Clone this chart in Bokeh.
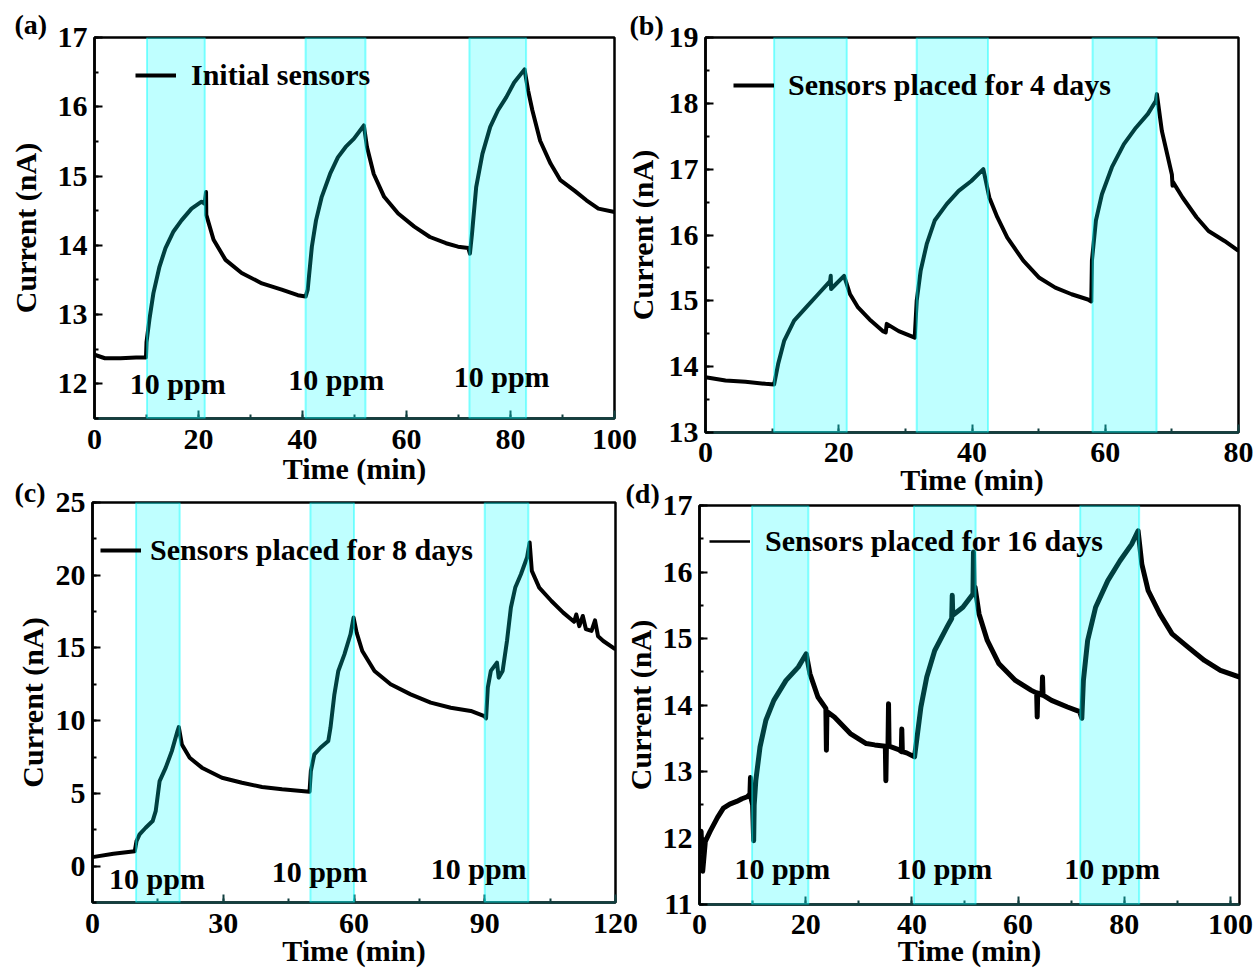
from bokeh.plotting import figure
from bokeh.layouts import column, row
from bokeh.models import (Range1d, BoxAnnotation, Label, Legend, LegendItem, Title,
                          SingleIntervalTicker)
from bokeh.embed import file_html
from bokeh.resources import INLINE

# ---------------- data ----------------
# (a) Initial sensors
a_time = [0, 2, 5, 8, 9.9, 10.0, 10.56, 11.33, 12.49, 13.65, 15.19, 16.73, 18.66, 20.59, 21.2, 21.45,
          21.5, 22.9, 25.2, 28.3, 32.2, 36.0, 39.1, 40.6, 41.0, 41.8, 42.6, 43.7, 45.3, 46.8, 48.3,
          49.9, 51.8, 52.4, 53.7, 55.7, 58.4, 61.5, 64.5, 67.6, 69.9, 71.9, 72.2, 72.6, 73.4, 74.6,
          76.1, 77.6, 79.2, 80.7, 82.7, 83.4, 84.2, 85.7, 87.7, 89.6, 92.3, 94.6, 96.9, 100]
a_current = [12.42, 12.37, 12.37, 12.38, 12.38, 12.6, 12.93, 13.31, 13.69, 13.96, 14.20, 14.36, 14.53,
             14.63, 14.6, 14.77, 14.44, 14.08, 13.79, 13.60, 13.45, 13.36, 13.28, 13.26, 13.36, 13.98,
             14.36, 14.70, 15.03, 15.27, 15.42, 15.54, 15.73, 15.42, 15.03, 14.70, 14.46, 14.27, 14.12,
             14.03, 13.98, 13.96, 13.88, 14.17, 14.84, 15.32, 15.71, 15.95, 16.14, 16.35, 16.54, 16.23,
             15.95, 15.51, 15.18, 14.94, 14.79, 14.65, 14.53, 14.48]
a_band_start = [10.1, 40.6, 72.1]
a_band_end = [21.2, 52.1, 83.0]

# (b) Sensors placed for 4 days
b_time = [0, 3, 6, 9, 10.3, 10.9, 11.8, 13.3, 15.1, 16.9, 18.7, 18.8, 18.85, 20.5, 20.8, 21.7, 22.9,
          24.8, 26.6, 27.05, 27.2, 29.0, 31.4, 31.7, 32.3, 33.2, 34.4, 36.2, 38.0, 39.9, 41.7, 42.6,
          43.8, 45.3, 47.7, 50.1, 52.5, 54.95, 57.4, 57.9, 58.0, 58.6, 59.5, 61.0, 62.8, 64.6, 66.4,
          67.6, 67.75, 68.5, 70.0, 70.1, 70.2, 71.6, 73.7, 75.5, 77.9, 80]
b_current = [13.84, 13.79, 13.77, 13.74, 13.73, 14.04, 14.39, 14.70, 14.90, 15.10, 15.30, 15.38, 15.18,
             15.35, 15.38, 15.10, 14.90, 14.70, 14.54, 14.52, 14.65, 14.54, 14.44, 15.00, 15.46, 15.86,
             16.22, 16.47, 16.67, 16.82, 17.00, 16.57, 16.27, 15.96, 15.61, 15.35, 15.20, 15.10, 15.02,
             14.99, 15.61, 16.22, 16.62, 17.03, 17.38, 17.63, 17.84, 18.04, 18.14, 17.58, 16.92, 16.75,
             16.80, 16.57, 16.27, 16.06, 15.91, 15.76]
b_band_start = [10.3, 31.7, 58.1]
b_band_end = [21.2, 42.4, 67.7]

# (c) Sensors placed for 8 days
c_time = [0, 4.8, 9.7, 10.1, 10.8, 12.2, 13.8, 14.5, 15.4, 16.8, 18.2, 19.5, 19.8, 20.5, 22.3, 25.1,
          29.7, 34.3, 38.9, 43.5, 49.8, 50.1, 50.9, 52.3, 54.1, 54.6, 55.5, 56.4, 57.8, 59.2, 59.9,
          60.6, 61.9, 64.7, 68.4, 73.0, 77.6, 82.2, 86.8, 89.9, 90.3, 90.7, 91.4, 92.8, 93.2, 94.1,
          95.1, 96.0, 97.0, 98.3, 99.7, 100.3, 100.8, 102.5, 105.3, 108.0, 110.5, 111.0, 111.7, 112.5,
          113.2, 114.5, 115.3, 116.0, 117.2, 120]
c_current = [0.62, 0.85, 1.03, 1.72, 2.18, 2.64, 3.10, 3.78, 5.85, 6.77, 7.91, 9.29, 9.56, 8.37, 7.45,
             6.77, 6.08, 5.73, 5.44, 5.28, 5.12, 6.54, 7.68, 8.14, 8.60, 9.52, 11.81, 13.42, 14.56,
             15.94, 17.09, 16.06, 14.79, 13.42, 12.50, 11.81, 11.24, 10.89, 10.67, 10.32, 10.16, 12.27,
             13.42, 13.99, 12.96, 13.42, 15.48, 17.78, 19.15, 20.07, 21.22, 22.25, 20.30, 19.15, 18.23,
             17.43, 16.8, 17.3, 16.5, 17.2, 16.3, 16.17, 16.9, 15.8, 15.48, 14.91]
c_band_start = [10.0, 50.0, 90.0]
c_band_end = [20.0, 60.0, 100.0]

# (d) Sensors placed for 16 days
d_time = [0, 0.3, 0.6, 1.1, 2.0, 3.4, 4.5, 5.7, 7.0, 8.0, 9.0, 9.5, 9.6, 9.7, 10.0, 10.2, 10.3, 10.6,
          11.4, 12.5, 14.0, 16.3, 18.6, 20.1, 20.8, 22.3, 23.8, 23.9, 24.0, 25.4, 28.4, 31.4, 33.0,
          35.0, 35.1, 35.2, 35.5, 35.6, 35.7, 37.5, 38.0, 38.1, 38.2, 39.0, 40.5, 40.9, 41.7, 42.8,
          44.3, 46.6, 47.5, 47.6, 47.7, 49.6, 51.5, 51.6, 51.7, 51.9, 52.65, 54.2, 56.4, 59.5, 62.5,
          63.5, 63.6, 63.7, 64.5, 64.6, 64.7, 66.3, 69.3, 71.6, 72.0, 72.3, 73.1, 74.6, 76.9, 79.2,
          81.4, 82.6, 83.3, 84.5, 86.7, 89.0, 92.0, 95.1, 98.1, 101.7]
d_current = [11.75, 12.1, 11.5, 11.95, 12.1, 12.31, 12.45, 12.51, 12.55, 12.59, 12.62, 12.66, 12.91,
             12.6, 12.5, 11.96, 12.5, 12.86, 13.37, 13.77, 14.07, 14.37, 14.57, 14.77, 14.47, 14.12,
             13.95, 13.32, 13.9, 13.82, 13.57, 13.42, 13.4, 13.38, 12.86, 13.38, 13.38, 14.02, 13.38,
             13.33, 13.3, 13.64, 13.3, 13.28, 13.22, 13.47, 13.97, 14.42, 14.82, 15.17, 15.3, 15.65,
             15.35, 15.47, 15.67, 16.3, 15.75, 15.77, 15.37, 14.97, 14.62, 14.37, 14.22, 14.18, 13.82,
             14.18, 14.15, 14.42, 14.15, 14.07, 13.97, 13.9, 13.8, 14.37, 14.97, 15.47, 15.87, 16.17,
             16.42, 16.62, 16.12, 15.72, 15.37, 15.07, 14.87, 14.67, 14.52, 14.42]
d_band_start = [9.9, 40.4, 71.7]
d_band_end = [20.5, 52.0, 82.8]

series_names = ["Initial sensors", "Sensors placed for 4 days",
                "Sensors placed for 8 days", "Sensors placed for 16 days"]
panel_tags = ["(a)", "(b)", "(c)", "(d)"]
dose_text = "10 ppm"

# ---------------- style ----------------
FONT = "Liberation Serif"
FS = "30px"


def make_panel(w, h, bl, br, bt, bb, xr, yr, xint, yint, ylab_standoff, xtick_standoff,
               xlab_standoff, tag, tag_offset, tag_standoff, transparent=False):
    p = figure(width=w, height=h, x_range=Range1d(*xr), y_range=Range1d(*yr),
               output_backend="svg", toolbar_location=None,
               min_border_left=bl, min_border_right=br, min_border_top=bt, min_border_bottom=bb)
    p.grid.visible = False
    p.outline_line_color = "black"
    p.outline_line_width = 2.5
    p.background_fill_color = "white"
    p.border_fill_color = "white"
    if transparent:
        p.border_fill_alpha = 0
    p.title = Title(text=tag, align="left", offset=tag_offset, standoff=tag_standoff,
                    vertical_align="bottom", text_font=FONT, text_font_style="bold",
                    text_font_size="28px", text_color="black")
    p.xaxis.ticker = SingleIntervalTicker(interval=xint, num_minor_ticks=2)
    p.yaxis.ticker = SingleIntervalTicker(interval=yint, num_minor_ticks=2)
    for ax in (p.xaxis, p.yaxis):
        ax.major_tick_in = 8
        ax.major_tick_out = 0
        ax.minor_tick_in = 4
        ax.minor_tick_out = 0
        ax.major_tick_line_width = 2
        ax.minor_tick_line_width = 2
        ax.axis_line_width = 2.5
        ax.major_label_text_font = FONT
        ax.major_label_text_font_style = "bold"
        ax.major_label_text_font_size = FS
        ax.major_label_text_color = "black"
        ax.axis_label_text_font = FONT
        ax.axis_label_text_font_style = "bold"
        ax.axis_label_text_font_size = FS
        ax.axis_label_text_color = "black"
    p.xaxis.axis_line_color = "#124040"
    p.xaxis.major_tick_line_color = "#124040"
    p.xaxis.minor_tick_line_color = "#124040"
    p.xaxis.axis_label = "Time (min)"
    p.yaxis.axis_label = "Current (nA)"
    p.xaxis.major_label_standoff = xtick_standoff
    p.yaxis.major_label_standoff = 7
    p.yaxis.axis_label_standoff = ylab_standoff
    p.xaxis.axis_label_standoff = xlab_standoff
    return p


def decorate(p, t, c, starts, ends, name, leg_xy, leg_standoff, line_w, dose_pos, leg_lw=None):
    r = p.line(t, c, line_color="black", line_width=line_w, line_join="round")
    for s, e in zip(starts, ends):
        p.add_layout(BoxAnnotation(left=s, right=e, fill_color="#00ffff", fill_alpha=0.25,
                                   line_color="#00ffff", line_alpha=0.45, line_width=2))
    for (dx, dy) in dose_pos:
        p.add_layout(Label(x=dx, y=dy, text=dose_text, text_font=FONT, text_font_style="bold",
                           text_font_size=FS, text_align="center", text_baseline="middle",
                           text_color="black"))
    leg_r = r
    if leg_lw is not None:
        leg_r = p.line(t[:1], c[:1], line_color="black", line_width=leg_lw)
    leg = Legend(items=[LegendItem(label=name, renderers=[leg_r])], location=leg_xy,
                 border_line_alpha=0, background_fill_alpha=0, padding=0, margin=0, spacing=0,
                 glyph_width=41, glyph_height=30, label_height=30, label_standoff=leg_standoff,
                 label_text_font=FONT, label_text_font_style="bold", label_text_font_size=FS,
                 label_text_color="black")
    p.add_layout(leg)
    return r


# left column: (a) over (c); right column: (b) over (d)
pa = make_panel(645, 493, 94, 31, 37, 75, (0, 100), (11.5, 17), 20, 1, 13, 11, 0,
                panel_tags[0], -80, -5)
decorate(pa, a_time, a_current, a_band_start, a_band_end, series_names[0], (41, 326), 15, 4,
         [(16.0, 12.0), (46.5, 12.06), (78.3, 12.1)])

pc = make_panel(645, 506, 92, 30, 36, 70, (0, 120), (-2.5, 25), 30, 5, 4, 11, -2,
                panel_tags[2], -78, -11, transparent=True)
decorate(pc, c_time, c_current, c_band_start, c_band_end, series_names[2], (8, 335), 9, 4,
         [(14.8, -0.83), (52.1, -0.34), (88.6, -0.14)])

pb = make_panel(645, 502, 95, 17, 37, 70, (0, 80), (13, 19), 20, 1, 7, 10, -2,
                panel_tags[1], -76, -7, transparent=True)
decorate(pb, b_time, b_current, b_band_start, b_band_end, series_names[1], (28, 330), 14, 4, [])

pd_ = make_panel(645, 503, 89, 16, 36, 68, (0, 101.7), (11, 17), 20, 1, 3, 10, -3,
                 panel_tags[3], -74, -7, transparent=True)
decorate(pd_, d_time, d_current, d_band_start, d_band_end, series_names[3], (10, 346), 15, 5,
         [(15.6, 11.54), (46.1, 11.54), (77.7, 11.54)], leg_lw=2.5)

# wrap the lower panels so each frame keeps its own left edge
wrap_c = row(pc)
wrap_c.margin = (-27, 0, 0, 0)
wrap_d = row(pd_)
wrap_d.margin = (-33, 0, 0, 0)

left = column(pa, wrap_c)
right = column(pb, wrap_d)
right.margin = (0, 0, 0, -35)
layout = row(left, right)

open("out.html", "w").write(file_html(layout, INLINE))
